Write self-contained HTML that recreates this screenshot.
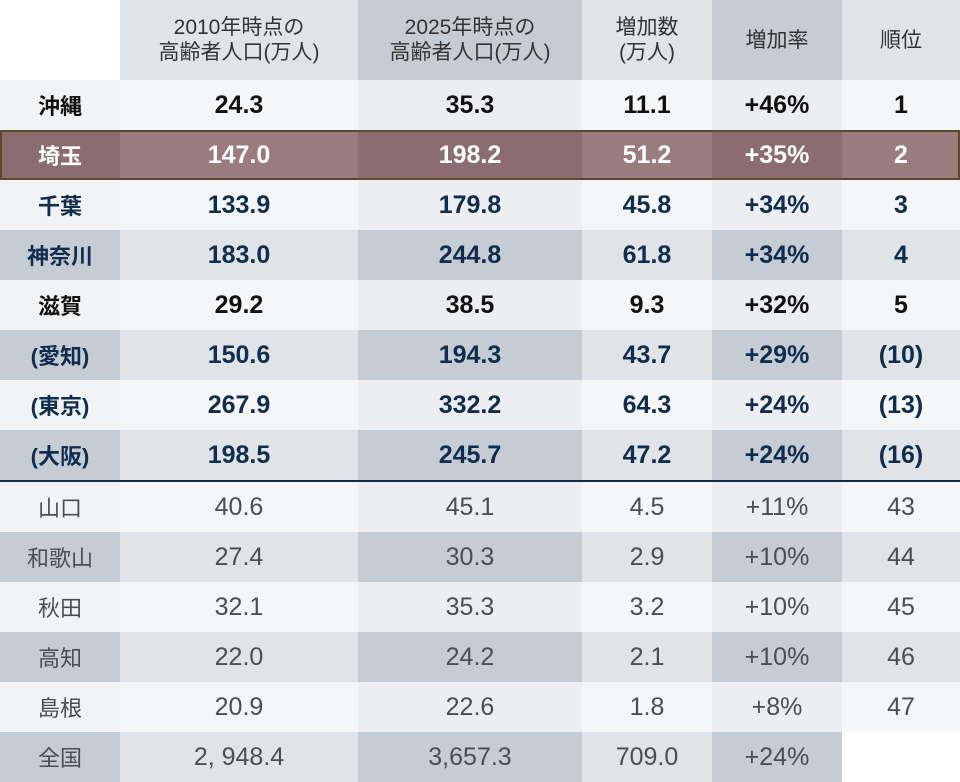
<!DOCTYPE html>
<html><head><meta charset="utf-8"><style>
body{margin:0;width:960px;height:780px;overflow:hidden;background:#fff;font-family:"Liberation Sans","Noto Sans CJK JP",sans-serif}
table{border-collapse:collapse;table-layout:fixed;width:960px}
td{padding:0;text-align:center;height:50px;font-size:25px;white-space:nowrap}
tr.h td{height:80px;font-size:21px;line-height:25px;color:#333;font-weight:normal}
td.l{font-size:22px}
.b td{font-weight:bold}
.k td{color:#111}
.n td{color:#0f2d4f}
.g td{color:#4a4d52;font-weight:normal}
.o td:nth-child(1){background:#eef0f3}.o td:nth-child(odd){background:#eceef1}.o td:nth-child(even){background:#f5f6f8}
.e td:nth-child(odd){background:#c6ccd4}.e td:nth-child(even){background:#e0e3e8}
.o td:nth-child(1){background:#f2f3f5}
.hl td{color:#fff;outline:none}
.hl td:nth-child(odd){background:#8b6c70}.hl td:nth-child(even){background:#9a7b7e}
.hl{box-shadow:inset 0 0 0 2px #5b4a2a}
.div td{border-bottom:2px solid #0f2d4f}
</style></head><body>
<table>
<colgroup><col style="width:120px"><col style="width:238px"><col style="width:224px"><col style="width:130px"><col style="width:130px"><col style="width:118px"></colgroup>
<tr class="h"><td style="background:#fff"></td><td style="background:#e0e3e8">2010年時点の<br>高齢者人口(万人)</td><td style="background:#c6ccd4">2025年時点の<br>高齢者人口(万人)</td><td style="background:#e0e3e8">増加数<br>(万人)</td><td style="background:#c6ccd4">増加率</td><td style="background:#e0e3e8">順位</td></tr>
<tr class="o b k"><td class="l">沖縄</td><td>24.3</td><td>35.3</td><td>11.1</td><td>+46%</td><td>1</td></tr>
<tr class="b hl"><td class="l" style="box-shadow:inset 2px 2px 0 #5b4a2a,inset 0 -2px 0 #5b4a2a">埼玉</td><td style="box-shadow:inset 0 2px 0 #5b4a2a,inset 0 -2px 0 #5b4a2a">147.0</td><td style="box-shadow:inset 0 2px 0 #5b4a2a,inset 0 -2px 0 #5b4a2a">198.2</td><td style="box-shadow:inset 0 2px 0 #5b4a2a,inset 0 -2px 0 #5b4a2a">51.2</td><td style="box-shadow:inset 0 2px 0 #5b4a2a,inset 0 -2px 0 #5b4a2a">+35%</td><td style="box-shadow:inset -2px 2px 0 #5b4a2a,inset 0 -2px 0 #5b4a2a">2</td></tr>
<tr class="o b n"><td class="l">千葉</td><td>133.9</td><td>179.8</td><td>45.8</td><td>+34%</td><td>3</td></tr>
<tr class="e b n"><td class="l">神奈川</td><td>183.0</td><td>244.8</td><td>61.8</td><td>+34%</td><td>4</td></tr>
<tr class="o b k"><td class="l">滋賀</td><td>29.2</td><td>38.5</td><td>9.3</td><td>+32%</td><td>5</td></tr>
<tr class="e b n"><td class="l">(愛知)</td><td>150.6</td><td>194.3</td><td>43.7</td><td>+29%</td><td>(10)</td></tr>
<tr class="o b n"><td class="l">(東京)</td><td>267.9</td><td>332.2</td><td>64.3</td><td>+24%</td><td>(13)</td></tr>
<tr class="e b n div"><td class="l">(大阪)</td><td>198.5</td><td>245.7</td><td>47.2</td><td>+24%</td><td>(16)</td></tr>
<tr class="o g"><td class="l">山口</td><td>40.6</td><td>45.1</td><td>4.5</td><td>+11%</td><td>43</td></tr>
<tr class="e g"><td class="l">和歌山</td><td>27.4</td><td>30.3</td><td>2.9</td><td>+10%</td><td>44</td></tr>
<tr class="o g"><td class="l">秋田</td><td>32.1</td><td>35.3</td><td>3.2</td><td>+10%</td><td>45</td></tr>
<tr class="e g"><td class="l">高知</td><td>22.0</td><td>24.2</td><td>2.1</td><td>+10%</td><td>46</td></tr>
<tr class="o g"><td class="l">島根</td><td>20.9</td><td>22.6</td><td>1.8</td><td>+8%</td><td>47</td></tr>
<tr class="e g"><td class="l">全国</td><td>2, 948.4</td><td>3,657.3</td><td>709.0</td><td>+24%</td><td style="background:#fff"></td></tr>
</table>
</body></html>
